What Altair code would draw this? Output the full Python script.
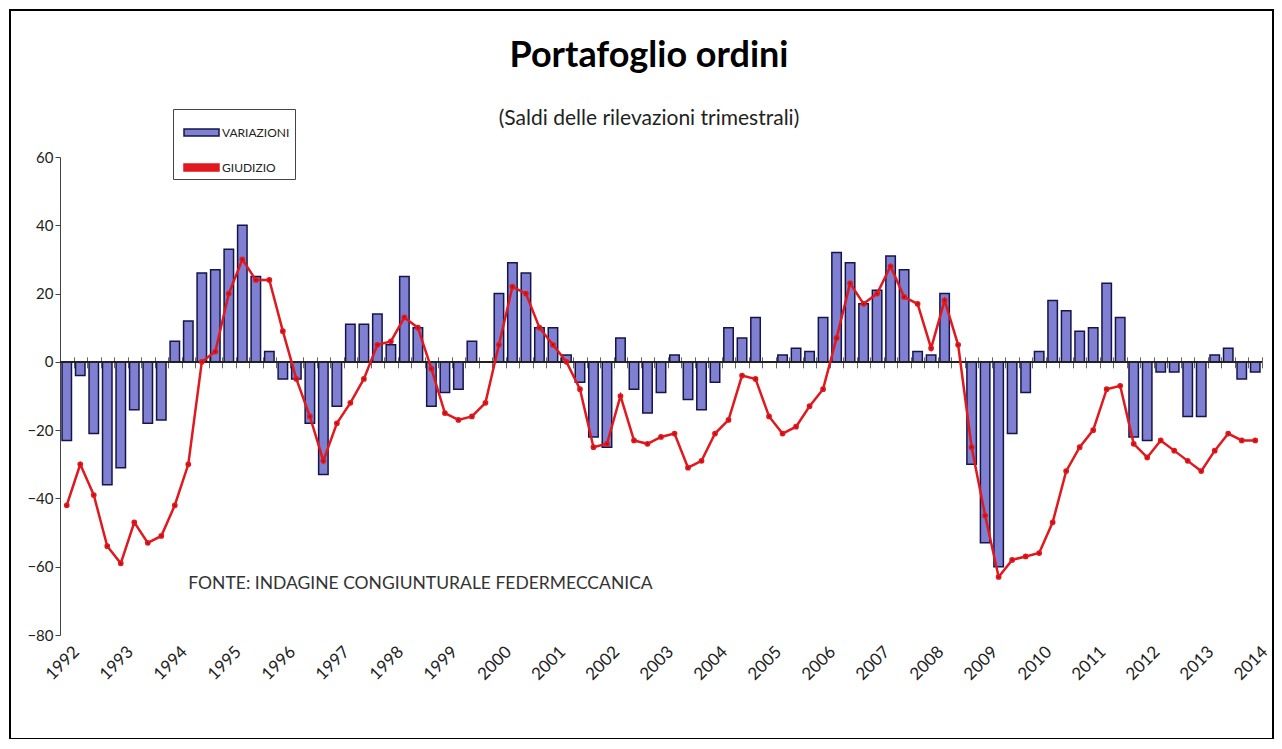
import altair as alt
import pandas as pd

# ---- data ----
years = ["1992", "1993", "1994", "1995", "1996", "1997", "1998", "1999", "2000", "2001", "2002",
         "2003", "2004", "2005", "2006", "2007", "2008", "2009", "2010", "2011", "2012", "2013", "2014"]
quarters = [f"{y} T{q}" for y in years for q in (1, 2, 3, 4)][:89]

variazioni = [-23, -4, -21, -36, -31, -14, -18, -17, 6, 12, 26, 27, 33, 40, 25, 3,
              -5, -5, -18, -33, -13, 11, 11, 14, 5, 25, 10, -13, -9, -8, 6, 0,
              20, 29, 26, 10, 10, 2, -6, -22, -25, 7, -8, -15, -9, 2, -11, -14,
              -6, 10, 7, 13, 0, 2, 4, 3, 13, 32, 29, 17, 21, 31, 27, 3,
              2, 20, 0, -30, -53, -60, -21, -9, 3, 18, 15, 9, 10, 23, 13, -22,
              -23, -3, -3, -16, -16, 2, 4, -5, -3]

giudizio = [-42, -30, -39, -54, -59, -47, -53, -51, -42, -30, 0, 3, 20, 30, 24, 24,
            9, -5, -16, -29, -18, -12, -5, 5, 6, 13, 10, -2, -15, -17, -16, -12,
            5, 22, 20, 10, 5, 0, -8, -25, -24, -10, -23, -24, -22, -21, -31, -29,
            -21, -17, -4, -5, -16, -21, -19, -13, -8, 7, 23, 17, 20, 28, 19, 17,
            4, 18, 5, -25, -45, -63, -58, -57, -56, -47, -32, -25, -20, -8, -7, -24,
            -28, -23, -26, -29, -32, -26, -21, -23, -23]

series_names = ["VARIAZIONI", "GIUDIZIO"]
y_ticks = [-80, -60, -40, -20, 0, 20, 40, 60]
fonte = "FONTE: INDAGINE CONGIUNTURALE FEDERMECCANICA"

df = pd.DataFrame({"trimestre": quarters, "variazioni": variazioni, "giudizio": giudizio})
note_df = pd.DataFrame({"trimestre": [quarters[9]], "v": [-65], "t": [fonte]})

# ---- styling ----
W, H = 1202, 478
Y_MIN, Y_MAX = -80, 60
FONT = "Lato"
zero_px = H * Y_MAX / (Y_MAX - Y_MIN)

leg = alt.Legend(title=None, orient="none", legendX=113, legendY=-48,
                 symbolType="M-1,-0.2H1V0.2H-1Z", symbolSize=1225, symbolStrokeWidth=1.5,
                 symbolOffset=5,
                 labelFont=FONT, labelFontSize=12, labelColor="#222", labelOffset=2,
                 strokeColor="#444", fillColor="white", padding=5, rowPadding=10,
                 direction="vertical", cornerRadius=0)

fill_scale = alt.Scale(domain=series_names, range=["#8080d2", "#e0191e"])
stroke_scale = alt.Scale(domain=series_names, range=["#15154a", "#e0191e"])

yscale = alt.Scale(domain=[Y_MIN, Y_MAX], nice=False, zero=False)

x_bottom = alt.X("trimestre:N", sort=None, scale=alt.Scale(paddingInner=0, paddingOuter=0),
                 axis=alt.Axis(orient="bottom", title=None, ticks=False, domain=False,
                               labelExpr="indexof(datum.label, 'T1') > 0 ? slice(datum.label, 0, 4) : ''",
                               labelAngle=315, labelAlign="right", labelBaseline="middle",
                               labelOffset=10, labelPadding=14, labelOverlap=False,
                               labelFont=FONT, labelFontSize=17, labelColor="#222"))

x_zero = alt.X("trimestre:N", sort=None,
               axis=alt.Axis(orient="bottom", title=None, labels=False, domain=False,
                             ticks=True, tickBand="extent", tickSize=11, tickColor="#666",
                             tickWidth=1, offset=zero_px - 5 - H))

y_axis = alt.Axis(title=None, values=y_ticks, grid=False, tickSize=5, domainColor="#444",
                  tickColor="#444", labelFont=FONT, labelFontSize=15, labelColor="#222",
                  labelPadding=2)

bars = alt.Chart(df).transform_calculate(serie='"VARIAZIONI"').mark_bar(
    width=alt.RelativeBandSize(0.7), strokeWidth=1.5
).encode(
    x=x_bottom,
    y=alt.Y("variazioni:Q", scale=yscale, axis=y_axis),
    y2=alt.datum(0),
    fill=alt.Fill("serie:N", scale=fill_scale, legend=leg),
    stroke=alt.Stroke("serie:N", scale=stroke_scale, legend=leg),
)

line = alt.Chart(df).transform_calculate(serie='"GIUDIZIO"').mark_line(
    strokeWidth=2.5, point=alt.OverlayMarkDef(filled=True, size=14, color="#b00000")
).encode(
    x=x_zero,
    y=alt.Y("giudizio:Q", scale=yscale),
    stroke=alt.Stroke("serie:N", scale=stroke_scale, legend=leg),
)

zero_rule = alt.Chart(df).mark_rule(color="#222", strokeWidth=1.2).encode(y=alt.datum(0))

note = alt.Chart(note_df).mark_text(align="left", baseline="middle", font=FONT,
                                    fontSize=17.5, color="#333").encode(
    x=alt.X("trimestre:N", sort=None, axis=None),
    y=alt.Y("v:Q", scale=yscale),
    text="t:N",
)

frame = alt.Chart(note_df).mark_rect(filled=False, stroke="black", strokeWidth=2).encode(
    x=alt.value(-50), x2=alt.value(W + 11), y=alt.value(-147), y2=alt.value(H + 104)
)

chart = alt.layer(bars, zero_rule, line, note, frame).resolve_axis(x="independent").properties(
    width=W, height=H,
    title=alt.TitleParams(text="Portafoglio ordini", subtitle="(Saldi delle rilevazioni trimestrali)",
                          anchor="middle", frame="group", font=FONT, fontSize=36, fontWeight="bold",
                          color="black", subtitleFont=FONT, subtitleFontSize=21, subtitleColor="#222",
                          subtitlePadding=33, offset=-121, dx=-12),
    padding={"left": 52, "top": 149, "right": 12, "bottom": 104},
    autosize=alt.AutoSizeParams(type="none"),
).configure_view(stroke=None)

chart.save("out.html", embed_options={"renderer": "svg", "actions": False})
